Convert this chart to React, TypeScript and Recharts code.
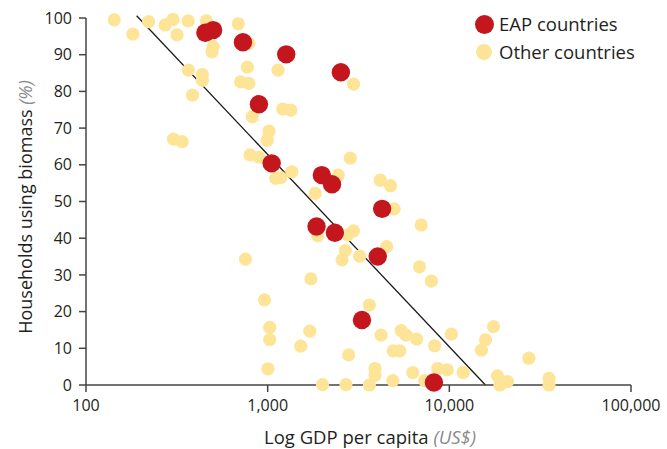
import { ScatterChart, Scatter, XAxis, YAxis, ReferenceLine, Label } from 'recharts';

// GDP per capita (US$) and share of households using biomass (%)
const eapGdp = [454, 501, 731, 1265, 2529, 895, 1052, 1986, 2260, 4267, 1858, 2344, 4036, 3304, 8226];
const eapShare = [96.0, 96.7, 93.4, 90.1, 85.2, 76.5, 60.4, 57.2, 54.7, 48.0, 43.2, 41.5, 35.0, 17.7, 0.7];

const otherGdp = [
  143, 181, 221, 273, 301, 317, 365, 460, 501, 494, 689, 788, 773, 709, 788, 366, 437, 437, 386, 822,
  1211, 1340, 1140, 2971, 1017, 995, 303, 338, 800, 895, 1106, 1180, 1358, 2850, 2444, 1824, 4169, 4743,
  4966, 6998, 1884, 2965, 2754, 2673, 2566, 3208, 4518, 6852, 7961, 1730, 755, 961, 3631, 1026, 1026,
  1706, 1521, 4210, 5430, 5780, 6607, 8300, 10256, 4910, 5335, 2792, 1004, 3900, 3900, 6295, 8630, 9745,
  11914, 2003, 2698, 3631, 4887, 7311, 17497, 15810, 15030, 27400, 18400, 18970, 20900, 35390, 35390,
];
const otherShare = [
  99.5, 95.6, 99.0, 98.1, 99.6, 95.4, 99.2, 99.2, 92.2, 90.8, 98.4, 93.1, 86.6, 82.6, 82.2, 85.8, 84.6, 83.0, 79.0, 73.1,
  75.2, 74.9, 85.8, 82.0, 69.2, 66.7, 67.0, 66.3, 62.7, 62.1, 56.3, 56.5, 58.1, 61.8, 57.2, 52.2, 55.8, 54.3,
  48.0, 43.6, 40.7, 42.0, 40.9, 36.6, 34.1, 35.1, 37.7, 32.2, 28.3, 28.9, 34.3, 23.2, 21.8, 15.7, 12.4,
  14.7, 10.6, 13.6, 14.8, 13.6, 12.5, 10.7, 13.9, 9.3, 9.3, 8.2, 4.4, 4.5, 2.6, 3.4, 4.5, 4.1,
  3.4, 0.1, 0.1, 0, 1.2, 1.2, 15.9, 12.3, 9.5, 7.3, 2.5, 0, 0.9, 1.8, 0,
];

const trendGdp = [190, 15800];
const trendShare = [100.6, 0];

const xTicks = [100, 1000, 10000, 100000];
const yTicks = [0, 10, 20, 30, 40, 50, 60, 70, 80, 90, 100];

const RED = '#C3161D';
const YELLOW = '#FEE496';
const FONT = '"Open Sans", sans-serif';
const TEXT = '#231F20';

const eapData = eapGdp.map((g, i) => ({ gdp: g, share: eapShare[i] }));
const otherData = otherGdp.map((g, i) => ({ gdp: g, share: otherShare[i] }));

export default function App() {
  return (
    <div style={{ position: 'absolute', left: 0, top: 0, width: 667, height: 449, background: '#fff' }}>
      <ScatterChart width={667} height={449} margin={{ top: 18, right: 36, bottom: 10, left: 26 }}>
        <XAxis
          type="number"
          dataKey="gdp"
          scale="log"
          domain={[100, 100000]}
          ticks={xTicks}
          allowDataOverflow
          height={54}
          tickSize={7}
          tickMargin={8}
          stroke="#444"
          strokeWidth={1.5}
          tick={{ fill: TEXT, fontSize: 16, fontFamily: FONT }}
          tickFormatter={(v: number) => v.toLocaleString('en-US')}
        >
          <Label
            content={() => (
              <text x={370} y={444} textAnchor="middle" fontFamily={FONT} fontSize={18.5} fill={TEXT}>
                Log GDP per capita{' '}
                <tspan fontStyle="italic" fill="#8a8a8a">(US$)</tspan>
              </text>
            )}
          />
        </XAxis>
        <YAxis
          type="number"
          dataKey="share"
          domain={[0, 100]}
          ticks={yTicks}
          interval={0}
          width={60}
          tickSize={7}
          tickMargin={7}
          stroke="#444"
          strokeWidth={1.5}
          tick={{ fill: TEXT, fontSize: 16, fontFamily: FONT }}
        >
          <Label
            content={() => (
              <text
                x={0}
                y={0}
                transform="translate(32, 207) rotate(-90)"
                textAnchor="middle"
                fontFamily={FONT}
                fontSize={18}
                fill={TEXT}
              >
                Households using biomass{' '}
                <tspan fontStyle="italic" fill="#8a8a8a">(%)</tspan>
              </text>
            )}
          />
        </YAxis>
        <Scatter
          data={otherData}
          isAnimationActive={false}
          shape={(p: any) => <circle cx={p.cx} cy={p.cy} r={6.6} fill={YELLOW} />}
        />
        <ReferenceLine
          segment={[
            { x: trendGdp[0], y: trendShare[0] },
            { x: trendGdp[1], y: trendShare[1] },
          ]}
          stroke="#1a1a1a"
          strokeWidth={1.3}
          ifOverflow="visible"
        />
        <Scatter
          data={eapData}
          isAnimationActive={false}
          shape={(p: any) => <circle cx={p.cx} cy={p.cy} r={9.2} fill={RED} />}
        />
      </ScatterChart>

      {/* legend */}
      <div style={{ position: 'absolute', left: 475, top: 10, fontFamily: FONT, fontSize: 18.5, color: TEXT, lineHeight: '28px' }}>
        <div style={{ display: 'flex', alignItems: 'center' }}>
          <span style={{ width: 19, height: 19, borderRadius: '50%', background: RED, marginRight: 5 }} />
          EAP countries
        </div>
        <div style={{ display: 'flex', alignItems: 'center' }}>
          <span style={{ width: 16, height: 16, borderRadius: '50%', background: YELLOW, margin: '0 7px 0 1px' }} />
          Other countries
        </div>
      </div>
    </div>
  );
}
